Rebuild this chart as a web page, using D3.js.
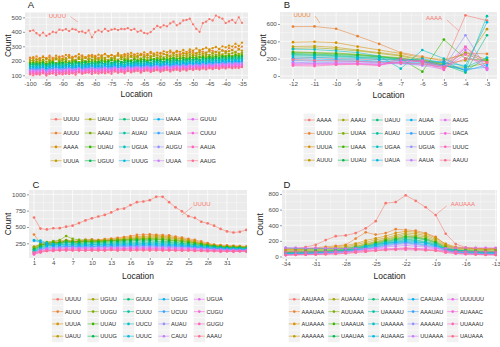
<!DOCTYPE html>
<html><head><meta charset="utf-8">
<script src="https://cdn.jsdelivr.net/npm/d3@7"></script>
<style>body{margin:0;background:#fff} svg{display:block} text{font-family:"Liberation Sans",Arial,sans-serif;font-weight:normal}</style>
</head><body><svg id="c" width="500" height="347"></svg>
<script>
const COLORS = ["#F8766D","#EA8331","#D89000","#C09B00","#A3A500","#7CAE00","#39B600","#00BB4E","#00BF7D","#00C1A3","#00BFC4","#00BAE0","#00B0F6","#35A2FF","#9590FF","#C77CFF","#E76BF3","#FA62DB","#FF62BC","#FF6C91"];

// ---------- Panel A ----------
const A_locations = [-100,-99,-98,-97,-96,-95,-94,-93,-92,-91,-90,-89,-88,-87,-86,-85,-84,-83,-82,-81,-80,-79,-78,-77,-76,-75,-74,-73,-72,-71,-70,-69,-68,-67,-66,-65,-64,-63,-62,-61,-60,-59,-58,-57,-56,-55,-54,-53,-52,-51,-50,-49,-48,-47,-46,-45,-44,-43,-42,-41,-40,-39,-38,-37,-36,-35];
const A_xTicks = [-100,-95,-90,-85,-80,-75,-70,-65,-60,-55,-50,-45,-40,-35];
const A_yTicks = [100,200,300,400,500];
const A_names = ["UUUU","AUUU","AAAA","UUUA","UAUU","AAAU","UUAU","UGUU","UUGU","AUAU","UGUA","UUUG","UAAA","UAUA","AUGU","UUAA","GUUU","CUUU","AAUA","AAUG"];
const A_series = [
[405,410,390,375,395,372,385,400,395,415,410,418,405,420,415,400,402,392,410,362,398,410,400,420,405,415,420,412,420,418,425,412,420,400,408,392,388,398,420,440,430,445,438,458,470,445,458,478,482,490,452,420,400,460,470,488,478,512,500,490,460,472,482,462,500,462],
[222,215,230,210,225,218,235,220,212,228,232,219,240,226,230,215,238,224,229,241,233,220,236,245,228,239,231,244,226,238,250,235,242,230,248,240,236,252,244,238,255,246,240,258,250,262,245,256,248,265,258,250,270,262,255,275,268,260,280,272,266,288,276,295,282,298],
[210,225,205,218,230,212,222,208,235,220,215,240,225,218,232,245,228,222,238,230,226,242,235,248,232,240,228,252,238,246,235,255,242,250,238,258,246,262,250,256,248,265,258,270,255,268,262,275,260,278,270,285,272,280,290,278,288,295,282,300,292,305,298,318,302,325],
[205,198,212,202,195,215,206,200,218,208,212,204,222,210,206,225,214,220,208,226,218,214,228,220,232,216,226,234,222,230,224,236,228,232,240,226,238,232,244,236,230,246,240,236,250,242,238,252,246,256,244,252,260,248,256,264,252,262,258,270,260,266,272,262,278,270],
[196,205,190,200,208,194,202,188,210,198,204,214,196,206,200,212,206,198,216,208,212,204,218,210,206,220,214,208,224,216,212,226,218,222,214,228,220,226,232,218,228,224,234,226,236,230,226,238,232,242,234,238,246,236,244,240,250,242,248,244,254,246,252,258,248,256],
[188,182,194,186,192,180,196,188,184,198,190,194,186,200,194,190,202,196,188,204,198,194,206,200,196,208,202,198,210,204,208,200,212,206,214,208,204,216,210,218,212,208,220,214,222,216,212,224,218,228,220,226,230,222,232,226,234,228,238,232,236,240,234,244,238,246],
[182,188,176,184,190,178,186,192,180,188,184,194,182,190,196,186,192,188,198,190,194,186,200,192,196,204,194,200,190,204,198,202,208,196,204,210,200,206,212,204,208,214,206,212,218,210,216,220,212,218,224,214,222,226,218,228,222,230,224,232,228,234,226,238,232,236],
[176,172,180,174,182,170,178,184,174,180,186,176,182,178,188,180,184,190,178,186,182,192,186,180,194,188,184,196,190,186,198,192,188,200,194,198,190,202,196,204,198,194,206,200,208,202,198,210,204,212,206,214,208,216,212,218,214,220,216,224,218,226,222,228,224,230],
[170,176,166,172,178,168,174,170,180,172,176,168,182,174,178,184,172,180,176,186,178,182,188,176,184,180,190,184,178,192,186,182,194,188,184,196,190,186,198,192,196,188,200,194,198,204,196,200,206,198,204,208,200,210,204,212,206,214,208,216,210,218,214,220,216,222],
[165,160,168,162,170,158,166,172,162,168,164,174,166,170,162,176,168,172,178,166,174,170,180,172,176,168,182,176,180,174,184,178,182,186,176,184,188,180,186,190,184,188,192,186,194,190,196,188,198,192,200,194,202,196,204,198,206,200,208,204,210,206,212,208,214,216],
[158,162,154,160,166,156,162,158,168,160,164,156,170,162,166,172,160,168,164,174,166,170,162,176,168,172,178,166,174,170,180,172,176,182,174,178,184,176,182,186,178,184,188,180,186,190,184,192,186,194,188,196,190,198,192,200,194,202,198,204,200,206,202,208,204,210],
[152,148,156,150,158,146,154,160,150,156,152,162,154,158,150,164,156,160,166,154,162,158,168,160,164,156,170,164,168,160,172,166,170,174,164,172,176,168,174,178,170,176,180,172,178,182,176,184,178,186,180,188,182,190,184,192,186,194,190,196,192,198,194,200,196,202],
[146,150,142,148,154,144,150,146,156,148,152,144,158,150,154,160,148,156,152,162,154,158,150,164,156,160,166,154,162,158,168,160,164,170,162,166,172,164,170,174,166,172,176,168,174,178,172,180,174,182,176,184,178,186,180,188,182,190,186,192,188,194,190,196,192,198],
[140,136,144,138,146,134,142,148,138,144,140,150,142,146,138,152,144,148,154,142,150,146,156,148,152,144,158,152,156,148,160,154,158,162,152,160,164,156,162,166,158,164,168,160,166,170,164,172,166,174,168,176,170,178,172,180,174,182,178,184,180,186,182,188,184,190],
[135,140,130,138,144,132,140,136,146,138,142,134,148,140,144,150,138,146,142,152,144,148,140,154,146,150,156,144,152,148,158,150,154,160,152,156,162,154,160,164,156,162,166,158,164,168,162,170,164,172,166,174,168,176,170,178,172,180,176,182,178,184,180,186,182,184],
[130,126,134,128,136,124,132,138,128,134,130,140,132,136,128,142,134,138,144,132,140,136,146,138,142,134,148,142,146,138,150,144,148,152,142,150,154,146,152,156,148,154,158,150,156,160,154,162,156,164,158,166,160,168,162,170,164,172,168,174,170,176,172,178,174,176],
[124,130,118,126,134,120,128,124,136,126,130,122,138,128,134,140,126,136,130,142,132,138,128,144,134,140,146,132,142,136,148,138,144,150,140,146,152,142,150,154,144,152,156,146,154,158,150,160,152,162,156,164,158,166,160,168,162,170,164,172,166,170,168,174,170,172],
[118,112,124,116,126,110,120,128,114,122,118,130,120,126,116,132,122,128,134,120,130,124,136,126,132,122,138,130,136,126,140,132,138,142,130,140,144,134,142,146,136,144,148,138,146,150,142,152,144,154,148,156,150,158,152,160,154,162,156,164,158,166,160,164,162,166],
[112,118,106,114,122,108,116,112,124,114,118,110,126,116,122,128,114,124,118,130,120,126,116,132,122,128,134,120,130,124,136,126,132,138,128,134,140,130,138,142,132,140,144,134,142,146,138,148,140,150,144,152,146,154,148,156,150,158,152,160,154,158,156,162,158,160],
[106,100,112,104,114,98,108,116,102,110,106,118,108,114,104,120,110,116,122,108,118,112,124,114,120,110,126,118,124,114,128,120,126,130,118,128,132,122,130,134,124,132,136,126,134,138,130,140,132,142,136,144,138,146,140,148,142,150,144,152,146,154,148,152,150,156]
];

// ---------- Panel B ----------
const B_locations = [-12,-11,-10,-9,-8,-7,-6,-5,-4,-3];
const B_xTicks = [-12,-11,-10,-9,-8,-7,-6,-5,-4,-3];
const B_yTicks = [0,200,400,600];
const B_names = ["AAAA","UUUU","UUUA","AUUU","AAAU","UUAA","UAAA","UUAU","UAUU","AUAU","UGAA","UAUA","AUAA","UUUG","UGUA","AAUA","AAUG","UACA","UUUC","AAUU"];
const B_series = [
[205,210,200,195,190,185,170,125,700,640],
[570,572,545,460,370,270,225,170,265,255],
[390,395,385,340,300,260,210,190,250,170],
[340,345,330,300,270,240,190,140,180,540],
[320,325,310,290,260,230,180,130,270,190],
[280,270,265,250,230,210,170,110,100,150],
[270,265,255,245,225,200,50,420,200,180],
[260,250,245,235,220,200,180,150,60,210],
[250,240,235,220,210,195,170,130,40,470],
[235,232,225,215,200,185,160,120,70,690],
[310,305,290,270,230,85,300,200,100,210],
[220,215,210,205,190,180,200,150,120,620],
[200,195,190,185,170,160,150,170,60,130],
[180,170,175,170,160,150,140,120,80,100],
[160,150,160,165,150,140,130,100,470,80],
[150,145,150,150,140,150,120,80,300,70],
[140,140,145,145,130,170,180,110,340,90],
[130,130,135,140,125,160,170,90,250,80],
[120,115,130,135,120,200,160,70,330,150],
[190,180,175,170,160,150,140,100,200,160]
];

// ---------- Panel C ----------
const C_locations = [1,2,3,4,5,6,7,8,9,10,11,12,13,14,15,16,17,18,19,20,21,22,23,24,25,26,27,28,29,30,31,32,33,34];
const C_xTicks = [1,4,7,10,13,16,19,22,25,28,31];
const C_yTicks = [250,500,750,1000];
const C_names = ["UUUU","AUUU","UUUA","UAUU","UGUU","UUGU","UUAU","UUUG","GUUU","CUUU","UUCU","UUUC","UGUG","UCUU","AUAU","CAUU","UGUA","CUGU","GUGU","AAAU"];
const C_series = [
[645,475,462,480,482,505,520,560,600,632,660,685,722,770,782,835,880,890,910,962,962,880,800,740,665,640,580,555,520,470,432,415,425,455],
[385,250,262,270,285,300,288,292,305,312,298,315,322,335,345,362,378,382,388,380,376,372,352,338,318,302,278,252,232,222,218,210,208,200],
[180,232,240,258,262,288,272,282,292,288,298,302,312,318,332,342,352,358,362,368,358,352,332,322,298,288,258,242,222,212,202,206,198,196],
[200,222,236,238,252,268,266,262,278,282,284,292,298,306,316,322,338,342,346,352,344,336,322,312,288,272,248,232,214,206,198,202,194,190],
[170,212,248,262,258,288,268,272,278,276,282,284,292,298,312,314,322,324,332,334,332,318,312,292,282,262,246,224,212,198,196,188,192,184],
[190,242,268,282,298,362,318,302,298,296,288,292,294,302,304,312,314,318,318,322,314,306,292,288,268,256,238,226,208,202,194,196,188,186],
[150,222,248,262,264,292,278,276,282,272,276,278,288,288,296,298,306,308,312,308,306,292,288,272,262,244,232,212,206,194,192,184,186,178],
[160,198,232,238,252,268,262,252,262,258,262,264,272,274,282,284,292,288,292,284,282,274,266,252,246,232,222,208,202,188,186,178,182,174],
[140,192,218,232,238,258,248,246,248,252,248,252,254,262,264,266,268,272,268,272,264,262,252,246,232,226,212,206,192,186,178,182,174,172],
[130,178,212,218,228,238,236,228,236,232,238,238,242,244,248,248,256,252,258,254,252,244,242,228,226,212,206,192,188,178,176,168,172,164],
[300,292,258,242,228,238,228,226,222,232,228,232,234,238,238,242,244,248,242,248,238,236,228,226,212,206,192,192,178,176,168,166,162,162],
[120,172,192,208,208,222,212,218,212,222,218,222,222,228,228,232,228,232,236,228,232,222,222,212,206,198,192,178,176,168,166,158,162,154],
[290,268,232,212,206,202,202,198,208,202,206,208,212,212,218,212,222,218,222,218,216,212,212,202,202,188,186,174,172,162,162,158,156,152],
[110,162,178,192,192,202,198,196,192,202,198,202,198,206,202,208,204,212,208,206,202,202,198,196,188,186,178,172,162,162,154,156,148,152],
[100,148,172,178,188,188,192,182,188,184,192,188,192,188,196,192,198,194,196,192,192,188,186,182,182,172,172,162,162,152,152,148,146,142],
[95,142,158,168,168,178,172,176,172,178,172,182,178,182,178,182,184,186,182,182,178,182,172,176,168,166,158,156,148,152,142,146,138,142],
[90,128,152,152,162,162,168,162,168,162,168,162,172,168,172,168,172,168,172,168,172,162,166,158,162,152,152,142,146,138,142,132,136,134],
[85,122,138,148,148,158,148,152,148,158,152,158,152,158,158,162,158,162,158,162,152,158,152,152,148,146,138,142,132,136,128,132,128,132],
[80,108,132,132,142,138,142,138,142,138,142,142,148,142,148,142,148,148,152,142,148,142,142,138,142,132,136,128,132,122,128,122,128,124],
[110,126,132,142,142,152,142,148,138,146,142,138,148,138,146,142,142,142,138,148,138,142,138,136,138,136,132,132,132,128,132,128,132,128]
];

// ---------- Panel D ----------
const D_locations = [-34,-33,-32,-31,-30,-29,-28,-27,-26,-25,-24,-23,-22,-21,-20,-19,-18,-17,-16,-15,-14,-13];
const D_xTicks = [-34,-31,-28,-25,-22,-19,-16,-13];
const D_yTicks = [0,200,400,600,800];
const D_names = ["AAUAAA","AAAUAA","AUAAAA","AAAAAA","AUAAAU","AUUAAA","UAAAUA","UAAUAA","AAAAUA","UAAAAU","UAAAAA","AUAAAG","CAAUAA","AAAUAU","AAAAAU","UUAAAA","UUUUUU","AUAAAC","UUAAAU","UAUAAA"];
const D_series = [
[100,100,120,150,210,260,270,300,360,452,683,696,783,713,630,530,291,160,115,100,95,100],
[100,95,100,110,125,135,150,230,310,280,300,350,340,330,300,250,150,110,100,100,95,100],
[90,92,95,100,110,122,140,165,205,232,262,302,322,312,288,238,162,122,112,106,100,100],
[80,85,92,95,102,110,122,150,182,212,238,272,302,292,268,222,142,112,102,96,90,92],
[70,76,80,86,90,102,110,132,162,192,222,252,282,268,252,202,132,102,90,86,80,82],
[60,66,70,76,82,90,102,122,152,182,212,238,262,252,232,188,122,92,80,76,72,70],
[50,56,62,66,70,82,90,112,142,172,202,222,252,242,222,182,112,82,72,66,60,62],
[50,54,56,62,66,76,86,102,132,162,192,212,238,232,212,172,102,76,66,62,56,55],
[40,46,50,56,62,70,82,96,122,152,182,202,222,212,192,162,96,72,62,56,50,52],
[40,42,46,50,56,66,76,92,116,142,172,192,212,202,182,152,92,66,56,52,46,45],
[35,40,42,46,52,60,72,86,112,132,162,182,202,192,172,142,86,62,52,46,42,40],
[110,106,102,100,102,100,102,112,132,152,172,182,192,182,172,142,102,82,72,62,56,52],
[30,36,36,42,46,56,66,82,102,122,152,172,182,172,152,132,82,56,46,42,36,35],
[30,32,36,40,46,52,62,76,96,116,142,162,172,162,142,122,76,52,42,36,32,30],
[25,30,32,36,42,50,56,72,92,112,132,152,162,152,132,112,72,52,42,36,32,30],
[20,25,26,30,36,42,52,62,82,102,122,132,142,132,122,102,62,46,36,32,26,25],
[110,112,108,110,106,104,100,102,98,100,102,98,100,102,98,100,104,110,112,110,112,110],
[15,20,22,26,30,36,42,52,62,82,92,102,112,102,92,82,52,36,30,26,22,20],
[60,62,58,60,62,66,64,70,76,80,82,86,86,84,80,80,72,66,62,60,62,60],
[20,22,26,26,30,32,40,52,62,72,86,92,102,92,82,72,52,40,32,26,22,20]
];

const svg = d3.select("#c");
const FONT = '"Liberation Sans",Arial,sans-serif';

function minorTicks(major, dom) {
  const step = major[1] - major[0];
  const out = [];
  const lo = Math.min(dom[0], dom[1]), hi = Math.max(dom[0], dom[1]);
  for (let v = major[0] - step / 2; v <= major[major.length - 1] + step / 2 + 1e-9; v += step) {
    if (v > lo && v < hi) out.push(v);
  }
  return out;
}

function panel(cfg, idx) {
  const g = svg.append("g");
  const R = cfg.rect;
  const x = d3.scaleLinear().domain(cfg.xDomain).range([R.x0, R.x1]);
  const y = d3.scaleLinear().domain(cfg.yDomain).range([R.y1, R.y0]);
  g.append("rect").attr("x", R.x0).attr("y", R.y0).attr("width", R.x1 - R.x0).attr("height", R.y1 - R.y0).attr("fill", "#EBEBEB");
  minorTicks(cfg.yTicks, cfg.yDomain).forEach(v => g.append("line").attr("x1", R.x0).attr("x2", R.x1).attr("y1", y(v)).attr("y2", y(v)).attr("stroke", "#fff").attr("stroke-width", 0.35));
  minorTicks(cfg.xTicks, cfg.xDomain).forEach(v => g.append("line").attr("y1", R.y0).attr("y2", R.y1).attr("x1", x(v)).attr("x2", x(v)).attr("stroke", "#fff").attr("stroke-width", 0.35));
  cfg.yTicks.forEach(v => g.append("line").attr("x1", R.x0).attr("x2", R.x1).attr("y1", y(v)).attr("y2", y(v)).attr("stroke", "#fff").attr("stroke-width", 0.7));
  cfg.xTicks.forEach(v => g.append("line").attr("y1", R.y0).attr("y2", R.y1).attr("x1", x(v)).attr("x2", x(v)).attr("stroke", "#fff").attr("stroke-width", 0.7));

  const clipId = "clip" + idx;
  g.append("clipPath").attr("id", clipId).append("rect").attr("x", R.x0).attr("y", R.y0).attr("width", R.x1 - R.x0).attr("height", R.y1 - R.y0);
  const data = g.append("g").attr("clip-path", `url(#${clipId})`);
  const line = d3.line().x((d, i) => x(cfg.xs[i])).y(d => y(d));
  cfg.series.forEach((s, i) => {
    data.append("path").attr("d", line(s)).attr("fill", "none").attr("stroke", COLORS[i]).attr("stroke-width", 0.55);
    data.selectAll(null).data(s).enter().append("circle")
      .attr("cx", (d, j) => x(cfg.xs[j])).attr("cy", d => y(d)).attr("r", cfg.r).attr("fill", COLORS[i]);
  });

  const fmt = d => String(d);
  const ax = g.append("g").attr("transform", `translate(0,${R.y1})`).call(d3.axisBottom(x).tickValues(cfg.xTicks).tickFormat(fmt).tickSize(2).tickPadding(1));
  const ay = g.append("g").attr("transform", `translate(${R.x0},0)`).call(d3.axisLeft(y).tickValues(cfg.yTicks).tickFormat(fmt).tickSize(2).tickPadding(1.2));
  [ax, ay].forEach(a => {
    a.select(".domain").remove();
    a.selectAll(".tick line").attr("stroke", "#333").attr("stroke-width", 0.5);
    a.selectAll(".tick text").attr("fill", "#4D4D4D").style("font-size", "6.2px").style("font-family", FONT);
  });

  g.append("text").attr("x", (R.x0 + R.x1) / 2).attr("y", cfg.locY).attr("text-anchor", "middle").attr("dominant-baseline", "central").attr("fill", "#222").style("font-size", "8.5px").text("Location");
  g.append("text").attr("transform", `translate(${cfg.countX},${(R.y0 + R.y1) / 2}) rotate(-90)`).attr("text-anchor", "middle").attr("dominant-baseline", "central").attr("fill", "#222").style("font-size", "8.5px").text("Count");
  g.append("text").attr("x", cfg.tag[1]).attr("y", cfg.tag[2]).attr("text-anchor", "middle").attr("dominant-baseline", "central").attr("fill", "#222").style("font-size", "9.5px").text(cfg.tag[0]);

  const an = cfg.ann;
  g.append("line").attr("x1", x(an.l1[0])).attr("y1", y(an.l1[1])).attr("x2", x(an.l2[0])).attr("y2", y(an.l2[1])).attr("stroke", COLORS[an.c]).attr("stroke-width", 0.5);
  g.append("text").attr("x", x(an.t[0])).attr("y", y(an.t[1])).attr("text-anchor", "middle").attr("dominant-baseline", "central").attr("fill", COLORS[an.c]).style("font-size", "6px").text(an.text);

  const L = cfg.legend;
  cfg.names.forEach((n, i) => {
    const col = Math.floor(i / 4), row = i % 4;
    const kx = L.x0 + col * L.dx, ky = L.y0 + row * L.dy;
    g.append("rect").attr("x", kx).attr("y", ky - L.dy / 2).attr("width", 12).attr("height", L.dy).attr("fill", "#F2F2F2").attr("stroke", "#fff").attr("stroke-width", 0.4);
    g.append("line").attr("x1", kx + 0.5).attr("x2", kx + 11.5).attr("y1", ky).attr("y2", ky).attr("stroke", COLORS[i]).attr("stroke-width", 0.55);
    g.append("circle").attr("cx", kx + 6).attr("cy", ky).attr("r", 1.3).attr("fill", COLORS[i]);
    g.append("text").attr("x", kx + 13.2).attr("y", ky).attr("dominant-baseline", "central").style("font-size", "5.6px").attr("fill", "#1A1A1A").text(n);
  });
}

panel({
  tag: ["A", 31, 4.5], rect: {x0: 25, x1: 248, y0: 12.5, y1: 79},
  xDomain: [-101.53, -33.16], yDomain: [74.3, 533.3],
  xTicks: A_xTicks, yTicks: A_yTicks, xs: A_locations, names: A_names, series: A_series, r: 1.15,
  locY: 94, countX: 7.5,
  ann: {text: "UUUU", c: 0, t: [-91.6, 509], l1: [-87.6, 505], l2: [-85.3, 467]},
  legend: {x0: 50, y0: 119.3, dx: 34.2, dy: 13.8}
}, 0);

panel({
  tag: ["B", 287, 4.5], rect: {x0: 280, x1: 497, y0: 12, y1: 79},
  xDomain: [-12.603, -2.536], yDomain: [-34.6, 738.5],
  xTicks: B_xTicks, yTicks: B_yTicks, xs: B_locations, names: B_names, series: B_series, r: 1.35,
  locY: 94.5, countX: 263,
  ann: {text: "UUUU", c: 1, t: [-11.58, 704], l1: [-10.98, 692], l2: [-10.75, 611]},
  legend: {x0: 303.3, y0: 120, dx: 34, dy: 13.4}
}, 1);

panel({
  tag: ["C", 36, 184.5], rect: {x0: 29, x1: 247, y0: 190, y1: 258},
  xDomain: [0.223, 34.11], yDomain: [25, 1065.8],
  xTicks: C_xTicks, yTicks: C_yTicks, xs: C_locations, names: C_names, series: C_series, r: 1.35,
  locY: 276, countX: 7.5,
  ann: {text: "UUUU", c: 0, t: [27.1, 851], l1: [25.6, 806], l2: [24.0, 683]},
  legend: {x0: 51.7, y0: 299.3, dx: 35.4, dy: 12.3}
}, 2);

panel({
  tag: ["D", 287, 184.5], rect: {x0: 282, x1: 497, y0: 190, y1: 259},
  xDomain: [-34.37, -12.87], yDomain: [-32, 851],
  xTicks: D_xTicks, yTicks: D_yTicks, xs: D_locations, names: D_names, series: D_series, r: 1.35,
  locY: 276, countX: 260,
  ann: {text: "AAUAAA", c: 0, t: [-16.28, 673], l1: [-17.9, 647], l2: [-18.9, 545]},
  legend: {x0: 288.3, y0: 299.3, dx: 39.6, dy: 12.3}
}, 3);

(function(){
  const x = d3.scaleLinear().domain([-12.603, -2.536]).range([280, 497]);
  const y = d3.scaleLinear().domain([-34.6, 738.5]).range([79, 12]);
  const g = svg.append("g");
  g.append("line").attr("x1", x(-4.86)).attr("y1", y(646)).attr("x2", x(-4.3)).attr("y2", y(520)).attr("stroke", COLORS[0]).attr("stroke-width", 0.5);
  g.append("text").attr("x", x(-5.46)).attr("y", y(669)).attr("text-anchor", "middle").attr("dominant-baseline", "central").attr("fill", COLORS[0]).style("font-size", "6px").text("AAAA");
})();
</script></body></html>
